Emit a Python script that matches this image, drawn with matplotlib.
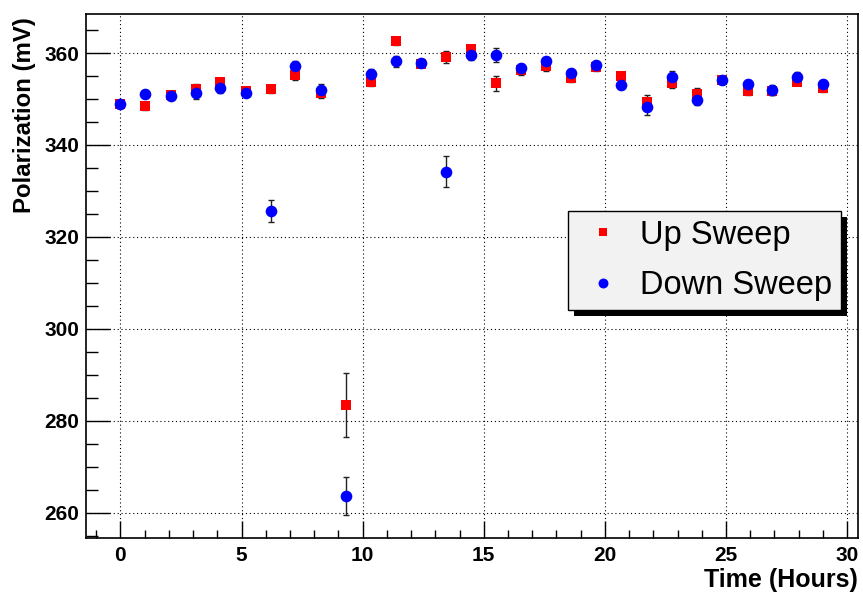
import matplotlib
matplotlib.use("Agg")
import matplotlib.pyplot as plt
from matplotlib.patches import Rectangle
from matplotlib.ticker import MultipleLocator

# ---- data ----
time_hours = [0.0, 1.03, 2.08, 3.11, 4.12, 5.17, 6.21, 7.22, 8.27, 9.30,
              10.35, 11.39, 12.42, 13.45, 14.49, 15.52, 16.55, 17.58, 18.61, 19.63,
              20.66, 21.72, 22.77, 23.81, 24.85, 25.89, 26.91, 27.94, 29.01]
up_sweep = [348.9, 348.5, 350.9, 352.2, 353.7, 351.7, 352.2, 355.2, 351.4, 283.4,
            353.8, 362.6, 357.7, 359.1, 360.9, 353.4, 356.3, 357.2, 354.5, 357.0,
            355.0, 349.4, 353.5, 351.2, 354.1, 351.7, 351.7, 353.8, 352.5]
up_err = [0.8, 0.8, 0.8, 1.0, 0.9, 0.8, 0.8, 1.0, 1.2, 6.9,
          1.0, 0.8, 0.8, 1.3, 0.9, 1.7, 1.0, 1.0, 0.9, 0.8,
          0.9, 1.5, 1.0, 1.3, 0.9, 0.9, 0.9, 0.8, 0.9]
down_sweep = [348.9, 351.2, 350.7, 351.3, 352.5, 351.4, 325.6, 357.2, 352.0, 263.7,
              355.5, 358.2, 357.8, 334.2, 359.5, 359.6, 356.7, 358.2, 355.7, 357.3,
              353.0, 348.3, 354.8, 349.7, 354.1, 353.3, 352.0, 354.9, 353.2]
down_err = [0.8, 0.8, 0.8, 1.2, 1.1, 0.8, 2.4, 1.0, 1.2, 4.1,
            1.0, 1.2, 0.9, 3.4, 0.9, 1.5, 1.0, 1.0, 0.9, 0.8,
            0.9, 1.8, 1.2, 1.0, 0.9, 0.9, 1.1, 0.9, 1.0]

x_ticks = [0, 5, 10, 15, 20, 25, 30]
y_ticks = [260, 280, 300, 320, 340, 360]

W, H = 863, 597
fig = plt.figure(figsize=(W / 100, H / 100), dpi=100)
ax = fig.add_axes([86 / W, 59 / H, 772 / W, 524 / H])

bold_font = ['Liberation Sans']

ax.errorbar(time_hours, up_sweep, yerr=up_err, fmt='none', ecolor='#222222',
            elinewidth=1.0, capsize=2.5, capthick=1.0, zorder=2)
ax.errorbar(time_hours, down_sweep, yerr=down_err, fmt='none', ecolor='#222222',
            elinewidth=1.0, capsize=2.5, capthick=1.0, zorder=2)
ax.plot(time_hours, up_sweep, linestyle='none', marker='s', markersize=7.2,
        color='#ff0000', markeredgewidth=0, label='Up Sweep', zorder=3)
ax.plot(time_hours, down_sweep, linestyle='none', marker='o', markersize=8.4,
        color='#0000ff', markeredgewidth=0, label='Down Sweep', zorder=4)

ax.set_xlim(-1.42, 30.45)
ax.set_ylim(254.5, 368.5)
ax.set_xticks(x_ticks)
ax.set_yticks(y_ticks)
ax.xaxis.set_minor_locator(MultipleLocator(1))
ax.yaxis.set_minor_locator(MultipleLocator(5))
ax.tick_params(axis='x', which='major', direction='in', length=12, width=1, pad=6,
               top=False)
ax.tick_params(axis='x', which='minor', direction='in', length=5.5, width=1, top=False)
ax.tick_params(axis='y', which='major', direction='in', length=17, width=1, pad=5,
               right=False)
ax.tick_params(axis='y', which='minor', direction='in', length=8.6, width=1, right=False)
for lab in ax.get_xticklabels() + ax.get_yticklabels():
    lab.set_family(bold_font)
    lab.set_fontweight('bold')
    lab.set_fontsize(15)

ax.grid(which='major', linestyle=(0, (1, 2.5)), color='black', linewidth=0.8, zorder=1)
ax.set_axisbelow(True)
for sp in ax.spines.values():
    sp.set_linewidth(1.2)
    sp.set_color('black')

fig.text(25 / W, 1 - 17 / H, 'Polarization (mV)', rotation=90, ha='center', va='top',
         family=bold_font, fontweight='bold', fontsize=17.3)
fig.text(858 / W, 1 - 580 / H, 'Time (Hours)', ha='right', va='center',
         family=bold_font, fontweight='bold', fontsize=18)

leg = ax.legend(loc='upper left', bbox_to_anchor=(568 / W, 1 - 211 / H),
                bbox_transform=fig.transFigure, borderaxespad=0,
                prop={'family': ['Liberation Sans'], 'size': 23.5},
                fancybox=False, framealpha=1, facecolor='#f2f2f2', edgecolor='black',
                borderpad=0.27, handlelength=1.6, handletextpad=0.34, labelspacing=0.6,
                markerscale=0.85)
leg.get_frame().set_linewidth(1.0)
leg.set_zorder(10)

fig.canvas.draw()
bb = leg.get_window_extent()
shadow = Rectangle((bb.x0 + 6, bb.y0 - 6), bb.width, bb.height, transform=None,
                   facecolor='black', edgecolor='none', zorder=9)
ax.add_artist(shadow)

fig.savefig('out.png', dpi=100)
